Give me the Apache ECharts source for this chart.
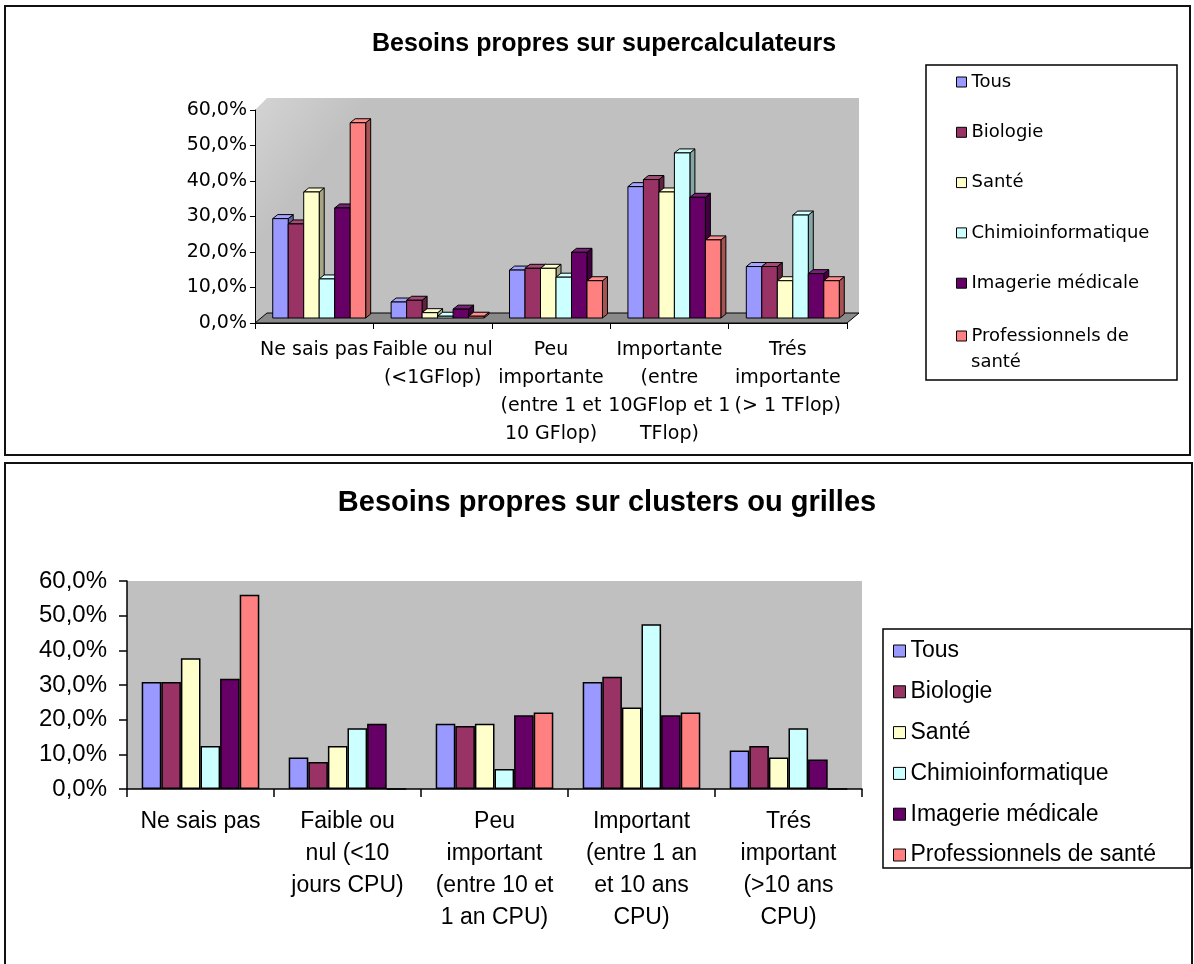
<!DOCTYPE html>
<html>
<head>
<meta charset="utf-8">
<script src="https://cdn.jsdelivr.net/npm/echarts@6/dist/echarts.min.js"></script>
<style>
  html, body { margin: 0; padding: 0; background: #fff; }
  #chart { width: 1194px; height: 964px; }
</style>
</head>
<body>
<div id="chart"></div>
<script>
// Survey answers, in percent, one array per population.
const SUBJECTS = ['Tous', 'Biologie', 'Santé', 'Chimioinformatique', 'Imagerie médicale', 'Professionnels de santé'];

// Supercomputer needs
const SUPER_CATEGORIES = [
  'Ne sais pas',
  'Faible ou nul\n(<1GFlop)',
  'Peu\nimportante\n(entre 1 et\n10 GFlop)',
  'Importante\n(entre\n10GFlop et 1\nTFlop)',
  'Trés\nimportante\n(> 1 TFlop)'
];
const superTous      = [28.0, 4.5, 13.5, 37.0, 14.5];
const superBiologie  = [26.5, 5.0, 14.0, 39.0, 14.5];
const superSante     = [35.5, 1.5, 14.0, 35.5, 10.5];
const superChimio    = [11.0, 0.5, 11.5, 46.5, 29.0];
const superImagerie  = [31.0, 2.5, 18.5, 34.0, 12.5];
const superPro       = [55.0, 0.5, 10.5, 22.0, 10.5];

// Cluster / grid needs
const CLUSTER_CATEGORIES = [
  'Ne sais pas',
  'Faible ou\nnul (<10\njours CPU)',
  'Peu\nimportant\n(entre 10 et\n1 an CPU)',
  'Important\n(entre 1 an\net 10 ans\nCPU)',
  'Trés\nimportant\n(>10 ans\nCPU)'
];
const clusterTous     = [30.9, 9.1, 18.8, 30.9, 11.1];
const clusterBiologie = [30.9, 7.8, 18.2, 32.4, 12.4];
const clusterSante    = [37.7, 12.4, 18.8, 23.5, 9.1];
const clusterChimio   = [12.4, 17.5, 5.8, 47.5, 17.5];
const clusterImagerie = [31.8, 18.8, 21.3, 21.3, 8.5];
const clusterPro      = [56.0, 0.0, 22.1, 22.1, 0.0];

const Y_MIN = 0, Y_MAX = 60, Y_STEP = 10;

const SUPER_SERIES = [superTous, superBiologie, superSante, superChimio, superImagerie, superPro];
const CLUSTER_SERIES = [clusterTous, clusterBiologie, clusterSante, clusterChimio, clusterImagerie, clusterPro];

const COLORS = ['#9999ff', '#993366', '#ffffcc', '#ccffff', '#660066', '#ff8080'];

// Layout of the two plot areas
const G1 = { left: 255, top: 110, width: 592, height: 213 };
const G2 = { left: 127, top: 581, width: 735, height: 208 };
const WALL_DEPTH = [12, 10];     // 3D floor / back wall offset
const BAR_SHIFT = [5, -5];       // bars stand in the middle of the floor depth
const BAR_DEPTH = [5, 4];        // visible top / side faces of each bar
const GROUP_FRACTION = 0.785;

function shade(hex, amt) {
  const n = parseInt(hex.slice(1), 16);
  let r = (n >> 16) & 255, g = (n >> 8) & 255, b = n & 255;
  const t = amt < 0 ? 0 : 255, p = Math.abs(amt);
  r = Math.round(r + (t - r) * p); g = Math.round(g + (t - g) * p); b = Math.round(b + (t - b) * p);
  return 'rgb(' + r + ',' + g + ',' + b + ')';
}

const pctLabel = v => v.toFixed(1).replace('.', ',') + '%';

// Draws one oblique 3D column: side face, top face, then front face.
function make3DRender(slot) {
  return function (params, api) {
    const cat = api.value(0), val = api.value(1);
    const base = api.coord([cat, 0]);
    const top = api.coord([cat, val]);
    const band = api.size([1, 0])[0];
    const groupW = band * GROUP_FRACTION;
    const bw = groupW / SUBJECTS.length;
    const x0 = base[0] - groupW / 2 + slot * bw + BAR_SHIFT[0];
    const yb = base[1] + BAR_SHIFT[1];
    const yt = top[1] + BAR_SHIFT[1];
    const dx = BAR_DEPTH[0], dy = BAR_DEPTH[1];
    const c = COLORS[slot];
    const edge = { stroke: '#000', lineWidth: 1 };
    return {
      type: 'group',
      children: [
        { type: 'polygon', shape: { points: [[x0 + bw, yt], [x0 + bw + dx, yt - dy], [x0 + bw + dx, yb - dy], [x0 + bw, yb]] },
          style: Object.assign({ fill: shade(c, -0.35) }, edge) },
        { type: 'polygon', shape: { points: [[x0, yt], [x0 + bw, yt], [x0 + bw + dx, yt - dy], [x0 + dx, yt - dy]] },
          style: Object.assign({ fill: shade(c, 0.12) }, edge) },
        { type: 'rect', shape: { x: x0, y: yt, width: bw, height: yb - yt },
          style: Object.assign({ fill: c }, edge) }
      ]
    };
  };
}

const series = [];
SUPER_SERIES.forEach((arr, i) => {
  series.push({
    name: SUBJECTS[i],
    type: 'custom',
    xAxisIndex: 0, yAxisIndex: 0,
    itemStyle: { color: COLORS[i] },
    renderItem: make3DRender(i),
    data: arr.map((v, k) => [k, v]),
    z: 3
  });
});
CLUSTER_SERIES.forEach((arr, i) => {
  series.push({
    name: SUBJECTS[i],
    type: 'bar',
    xAxisIndex: 1, yAxisIndex: 1,
    barGap: '0%',
    barCategoryGap: '20%',
    itemStyle: { color: COLORS[i], borderColor: '#000', borderWidth: 1.5 },
    data: arr
  });
});

// Back wall and floor of the 3D plot
const L = G1.left, T = G1.top, R = G1.left + G1.width, B = G1.top + G1.height;
const DX = WALL_DEPTH[0], DY = WALL_DEPTH[1];

const topFontCss = '18px "DejaVu Sans", sans-serif';

const graphic = [
  { type: 'rect', z: -20, shape: { x: 5, y: 6, width: 1185, height: 449 }, style: { fill: '#fff', stroke: '#111', lineWidth: 2 } },
  { type: 'rect', z: -20, shape: { x: 5, y: 463, width: 1187, height: 520 }, style: { fill: '#fff', stroke: '#111', lineWidth: 2 } },
  { type: 'polygon', z: -10,
    shape: { points: [[L, B], [L, T], [L + DX, T - 12], [R + DX, T - 12], [R + DX, B - DY], [L + DX, B - DY]] },
    style: { fill: { type: 'linear', x: 0, y: 0, x2: 0.12, y2: 0.25,
      colorStops: [{ offset: 0, color: '#d4d4d4' }, { offset: 1, color: '#c0c0c0' }] } } },
  { type: 'polygon', z: -9,
    shape: { points: [[L, B], [L + DX, B - DY], [R + DX, B - DY], [R, B]] },
    style: { fill: '#8a8a8a', stroke: '#000', lineWidth: 1 } },
  { type: 'rect', z: -10, shape: { x: 926, y: 65, width: 251, height: 315 }, style: { fill: '#fff', stroke: '#000', lineWidth: 1.5 } },
  { type: 'rect', z: -10, shape: { x: 883, y: 629, width: 308, height: 239 }, style: { fill: '#fff', stroke: '#000', lineWidth: 1.5 } },
  // wrapped second line of the last legend entry
  { type: 'text', z: 5, style: { text: 'santé', x: 971, y: 362, textVerticalAlign: 'middle', font: topFontCss, fill: '#000' } },
  { type: 'text', z: 5, style: { text: 'Besoins propres sur supercalculateurs', x: 604, y: 44, textAlign: 'center', textVerticalAlign: 'middle',
      font: 'bold 25px "Liberation Sans", Arial, sans-serif', fill: '#000' } },
  { type: 'text', z: 5, style: { text: 'Besoins propres sur clusters ou grilles', x: 607, y: 503, textAlign: 'center', textVerticalAlign: 'middle',
      font: 'bold 29px "Liberation Sans", Arial, sans-serif', fill: '#000' } }
];

const topFont = { fontFamily: '"DejaVu Sans", sans-serif', color: '#000' };
const botFont = { fontFamily: '"Liberation Sans", Arial, sans-serif', color: '#000' };

const option = {
  backgroundColor: '#fff',
  animation: false,
  graphic: graphic,
  grid: [
    Object.assign({ containLabel: false }, G1),
    Object.assign({ containLabel: false, show: true, backgroundColor: '#c0c0c0', borderWidth: 0 }, G2)
  ],
  xAxis: [
    { type: 'category', gridIndex: 0, data: SUPER_CATEGORIES,
      axisLine: { lineStyle: { color: '#000', width: 1 } },
      axisTick: { show: true, length: 6, lineStyle: { color: '#000' } },
      axisLabel: Object.assign({ interval: 0, fontSize: 19, lineHeight: 28, margin: 13 }, topFont) },
    { type: 'category', gridIndex: 1, data: CLUSTER_CATEGORIES,
      axisLine: { lineStyle: { color: '#000', width: 1.5 } },
      axisTick: { show: true, length: 8, lineStyle: { color: '#000', width: 1.5 } },
      axisLabel: Object.assign({ interval: 0, fontSize: 23, lineHeight: 32, margin: 17 }, botFont) }
  ],
  yAxis: [
    { type: 'value', gridIndex: 0, min: Y_MIN, max: Y_MAX, interval: Y_STEP,
      axisLine: { show: true, lineStyle: { color: '#000', width: 1 } },
      axisTick: { show: true, length: 5, lineStyle: { color: '#000' } },
      splitLine: { show: false },
      axisLabel: Object.assign({ fontSize: 19, margin: 8, formatter: pctLabel }, topFont) },
    { type: 'value', gridIndex: 1, min: Y_MIN, max: Y_MAX, interval: Y_STEP,
      axisLine: { show: true, lineStyle: { color: '#000', width: 1.5 } },
      axisTick: { show: true, length: 8, lineStyle: { color: '#000', width: 1.5 } },
      splitLine: { show: false },
      axisLabel: Object.assign({ fontSize: 24, margin: 20, formatter: pctLabel }, botFont) }
  ],
  legend: [
    { data: SUBJECTS.slice(0, 5), orient: 'vertical', left: 956, top: 71, padding: 0,
      itemWidth: 10, itemHeight: 10, itemGap: 28.3, icon: 'rect',
      itemStyle: { borderColor: '#000', borderWidth: 1 },
      textStyle: Object.assign({ fontSize: 18, lineHeight: 22 }, topFont) },
    { data: SUBJECTS.slice(5), orient: 'vertical', left: 956, top: 325, padding: 0,
      itemWidth: 10, itemHeight: 10, icon: 'rect',
      itemStyle: { borderColor: '#000', borderWidth: 1 },
      formatter: name => name.replace(' santé', ''),
      textStyle: Object.assign({ fontSize: 18, lineHeight: 22 }, topFont) },
    { data: SUBJECTS, orient: 'vertical', left: 893, top: 639, padding: 0,
      itemWidth: 12, itemHeight: 12, itemGap: 16.8, icon: 'rect',
      itemStyle: { borderColor: '#000', borderWidth: 1 },
      textStyle: Object.assign({ fontSize: 23, lineHeight: 24 }, botFont) }
  ],
  series: series
};

const chart = echarts.init(document.getElementById('chart'), null, { renderer: 'canvas' });
chart.setOption(option);
</script>
</body>
</html>
